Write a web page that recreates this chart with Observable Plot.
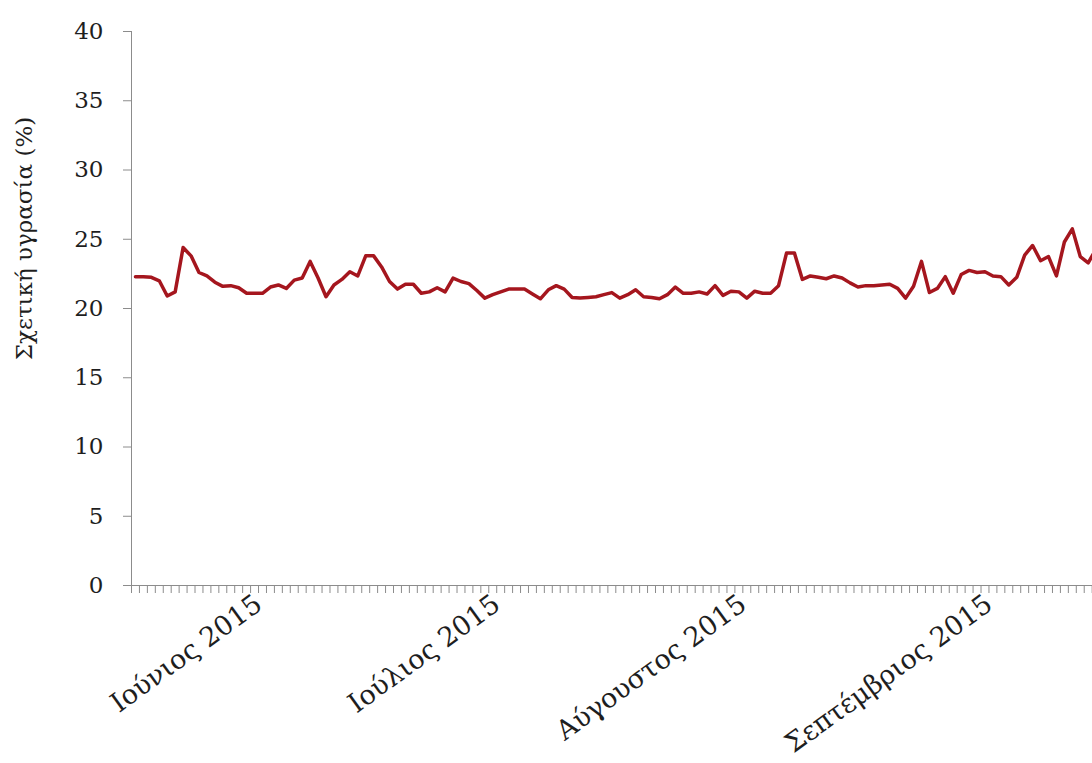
<!DOCTYPE html>
<html>
<head>
<meta charset="utf-8">
<script src="https://cdn.jsdelivr.net/npm/d3@7"></script>
<script src="https://cdn.jsdelivr.net/npm/@observablehq/plot@0.6"></script>
<style>
  html, body { margin: 0; padding: 0; background: #fff; overflow: hidden; }
</style>
</head>
<body>
<div id="chart"></div>
<script>
// Daily mean relative humidity (%), one value per day starting 16 May 2015
const firstDay = "2015-05-16";
const humidity = [
  22.3, 22.3, 22.25, 22.0, 20.9, 21.2, 24.4, 23.8, 22.6, 22.35,
  21.9, 21.6, 21.65, 21.5, 21.1, 21.1, 21.1, 21.55, 21.7, 21.45,
  22.05, 22.2, 23.4, 22.2, 20.85, 21.7, 22.1, 22.65, 22.35, 23.8,
  23.8, 23.0, 21.95, 21.4, 21.75, 21.75, 21.1, 21.2, 21.5, 21.2,
  22.2, 21.95, 21.8, 21.3, 20.75, 21.0, 21.2, 21.4, 21.4, 21.4,
  21.05, 20.7, 21.35, 21.65, 21.4, 20.8, 20.75, 20.8, 20.85, 21.0,
  21.15, 20.75, 21.0, 21.35, 20.85, 20.8, 20.7, 21.0, 21.55, 21.1,
  21.1, 21.2, 21.05, 21.65, 20.95, 21.25, 21.2, 20.75, 21.25, 21.1,
  21.1, 21.65, 24.0, 24.0, 22.1, 22.35, 22.25, 22.15, 22.35, 22.2,
  21.85, 21.55, 21.65, 21.65, 21.7, 21.75, 21.45, 20.75, 21.6, 23.4,
  21.15, 21.45, 22.3, 21.1, 22.45, 22.75, 22.6, 22.65, 22.35, 22.3,
  21.7, 22.25, 23.85, 24.55, 23.45, 23.75, 22.35, 24.8, 25.75, 23.75,
  23.3, 24.3
];

// Month labels on the time axis
const monthStarts = ["2015-06-01", "2015-07-01", "2015-08-01", "2015-09-01"];
const monthLabels = ["Ιούνιος 2015", "Ιούλιος 2015", "Αύγουστος 2015", "Σεπτέμβριος 2015"];

// Value axis
const yTicks = [0, 5, 10, 15, 20, 25, 30, 35, 40];
const yLabel = "Σχετική υγρασία (%)";

const start = new Date(firstDay);
// visible window ends just after midnight on 14 September
const xEnd = new Date(Date.UTC(2015, 8, 14, 1));

// each reading is drawn at the middle of its day
const rows = humidity.map((v, i) => ({
  date: new Date(d3.utcDay.offset(start, i).getTime() + 12 * 3600e3),
  value: v
}));
const dayTicks = d3.utcDay.range(start, xEnd);
const months = monthStarts.map((d, i) => ({date: new Date(d), label: monthLabels[i]}));

const serif = "'DejaVu Serif', 'Liberation Serif', serif";
const axisGrey = "#8c8c8c";
const ink = "#1e1e1e";

const chart = Plot.plot({
  width: 1092,
  height: 763,
  marginLeft: 131,
  marginRight: 0,
  marginTop: 31,
  marginBottom: 178,
  style: {fontFamily: serif, background: "#fff", overflow: "visible"},
  x: {type: "utc", domain: [start, xEnd]},
  y: {domain: [0, 40]},
  marks: [
    Plot.ruleX([start], {stroke: axisGrey, strokeWidth: 1}),
    Plot.ruleY([0], {stroke: axisGrey, strokeWidth: 1}),
    Plot.axisY(yTicks, {
      tickSize: 8,
      tickPadding: 20,
      stroke: axisGrey,
      fill: ink,
      fontSize: 23,
      fontFamily: serif,
      label: null
    }),
    Plot.axisX(dayTicks, {
      tickSize: 8,
      stroke: axisGrey,
      tickFormat: () => "",
      label: null
    }),
    Plot.text(months, {
      x: "date",
      y: () => 0,
      text: "label",
      rotate: -36,
      textAnchor: "end",
      lineAnchor: "top",
      dx: -6,
      dy: 7,
      fontSize: 27,
      fontFamily: serif,
      fill: ink
    }),
    Plot.text([yLabel], {
      frameAnchor: "left",
      textAnchor: "middle",
      rotate: -90,
      dx: -107,
      dy: -70,
      fontSize: 23,
      fontFamily: serif,
      fill: ink
    }),
    Plot.line(rows, {
      x: "date",
      y: "value",
      stroke: "#a5161e",
      strokeWidth: 3.5,
      strokeLinejoin: "round",
      clip: true
    })
  ]
});

document.getElementById("chart").append(chart);
</script>
</body>
</html>
